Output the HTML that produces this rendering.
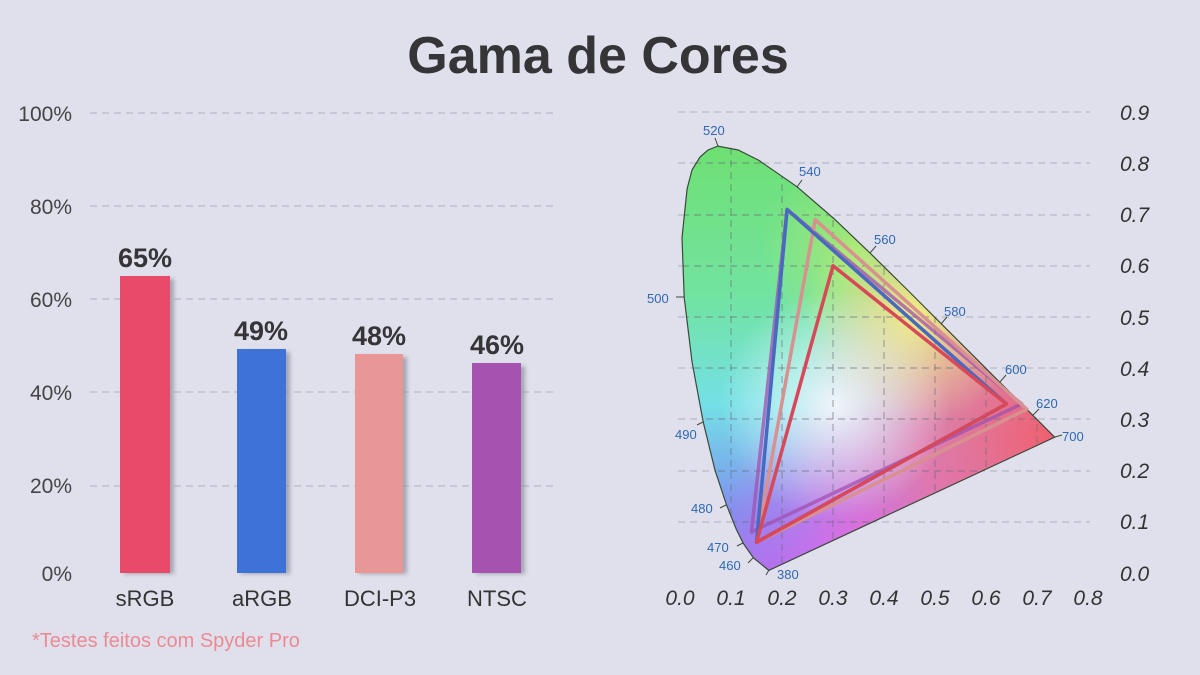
<!DOCTYPE html>
<html><head><meta charset="utf-8"><style>
html,body{margin:0;padding:0;background:#dfe0ec;}
svg{display:block;}
text{font-family:"Liberation Sans",sans-serif;}
</style></head><body>
<svg width="1200" height="675" viewBox="0 0 1200 675" xmlns="http://www.w3.org/2000/svg">
<defs>
<clipPath id="loc"><path id="locp" d="M768.8,570.4 L753.4,557.8 L743.3,543.4 L736,528.6 L726.6,505.1 L715,470.2 L703.2,422 L692,361.7 L684.2,297.3 L682,237.7 L687.1,188.9 L692,170 L699.8,157.3 L708,150 L717.9,146.1 L738.2,150 L758.9,160.4 L797.1,186.8 L833.8,218.5 L870.3,253.3 L906.5,289 L941.4,323.9 L973.4,355.8 L999.8,382.3 L1032.7,415.2 L1054.7,437.2 Z"/></clipPath>
<linearGradient id="gv" x1="0" y1="0" x2="0" y2="1">
<stop offset="0" stop-color="#6ee070"/><stop offset="0.35" stop-color="#72e3a0"/><stop offset="0.6" stop-color="#74e0e6"/><stop offset="0.85" stop-color="#7d90f0"/><stop offset="1" stop-color="#a070f0"/></linearGradient>
<radialGradient id="gr" cx="1050" cy="435" r="260" gradientUnits="userSpaceOnUse">
<stop offset="0" stop-color="#f06070" stop-opacity="1"/><stop offset="0.5" stop-color="#f070a0" stop-opacity="0.8"/><stop offset="1" stop-color="#f070c0" stop-opacity="0"/></radialGradient>
<radialGradient id="gm" cx="860" cy="545" r="150" gradientUnits="userSpaceOnUse">
<stop offset="0" stop-color="#e868e8" stop-opacity="0.85"/><stop offset="1" stop-color="#e868e8" stop-opacity="0"/></radialGradient>
<radialGradient id="gy" cx="915" cy="315" r="110" gradientUnits="userSpaceOnUse">
<stop offset="0" stop-color="#f4f080" stop-opacity="0.95"/><stop offset="1" stop-color="#f4f080" stop-opacity="0"/></radialGradient>
<radialGradient id="gg" cx="850" cy="250" r="90" gradientUnits="userSpaceOnUse">
<stop offset="0" stop-color="#b0e870" stop-opacity="0.8"/><stop offset="1" stop-color="#b0e870" stop-opacity="0"/></radialGradient>
<radialGradient id="gw" cx="835" cy="405" r="115" gradientUnits="userSpaceOnUse">
<stop offset="0" stop-color="#fff" stop-opacity="0.85"/><stop offset="1" stop-color="#fff" stop-opacity="0"/></radialGradient>
<filter id="sh" x="-20%" y="-20%" width="150%" height="140%"><feGaussianBlur stdDeviation="2"/></filter>
</defs>

<text x="598" y="73" text-anchor="middle" font-size="52" font-weight="bold" fill="#353538">Gama de Cores</text>

<g stroke="#b8bac8" stroke-width="1.2" stroke-dasharray="7,5">
<line x1="90" y1="113" x2="558" y2="113"/><line x1="90" y1="206" x2="558" y2="206"/>
<line x1="90" y1="299" x2="558" y2="299"/><line x1="90" y1="392" x2="558" y2="392"/>
<line x1="90" y1="486" x2="558" y2="486"/>
</g>
<g font-size="21" fill="#444" text-anchor="end">
<text x="72" y="121">100%</text><text x="72" y="214">80%</text><text x="72" y="307">60%</text>
<text x="72" y="400">40%</text><text x="72" y="493">20%</text><text x="72" y="581">0%</text>
</g>
<g fill="#8a8c98" opacity="0.7" filter="url(#sh)">
<rect x="124" y="279" width="50" height="295"/><rect x="241" y="352" width="49" height="222"/>
<rect x="359" y="357" width="48" height="217"/><rect x="476" y="366" width="49" height="208"/>
</g>
<rect x="120" y="276" width="50" height="297" fill="#e84a6a"/>
<rect x="237" y="349" width="49" height="224" fill="#3e72d8"/>
<rect x="355" y="354" width="48" height="219" fill="#e89696"/>
<rect x="472" y="363" width="49" height="210" fill="#a552b0"/>
<g font-size="27" font-weight="bold" fill="#353538" text-anchor="middle">
<text x="145" y="267">65%</text><text x="261" y="340">49%</text><text x="379" y="345">48%</text><text x="497" y="354">46%</text>
</g>
<g font-size="22" fill="#333" text-anchor="middle">
<text x="145" y="606">sRGB</text><text x="262" y="606">aRGB</text><text x="380" y="606">DCI-P3</text><text x="497" y="606">NTSC</text>
</g>
<text x="32" y="647" font-size="20" fill="#ec8a94">*Testes feitos com Spyder Pro</text>

<g stroke="#b8bac8" stroke-width="1.2" stroke-dasharray="7,5">
<line x1="678" y1="112" x2="1090" y2="112"/><line x1="678" y1="163" x2="1090" y2="163"/>
<line x1="678" y1="215" x2="1090" y2="215"/><line x1="678" y1="266" x2="1090" y2="266"/>
<line x1="678" y1="317" x2="1090" y2="317"/><line x1="678" y1="368" x2="1090" y2="368"/>
<line x1="678" y1="419" x2="1090" y2="419"/><line x1="678" y1="471" x2="1090" y2="471"/>
<line x1="678" y1="522" x2="1090" y2="522"/>
</g>
<g clip-path="url(#loc)">
<rect x="670" y="140" width="400" height="440" fill="url(#gv)"/>
<rect x="670" y="140" width="400" height="440" fill="url(#gg)"/>
<rect x="670" y="140" width="400" height="440" fill="url(#gm)"/>
<rect x="670" y="140" width="400" height="440" fill="url(#gr)"/>
<rect x="670" y="140" width="400" height="440" fill="url(#gy)"/>
<rect x="670" y="140" width="400" height="440" fill="url(#gw)"/>
<g stroke="#6a6c78" stroke-opacity="0.55" stroke-width="1.2" stroke-dasharray="7,5">
<line x1="731" y1="100" x2="731" y2="580"/><line x1="782" y1="100" x2="782" y2="580"/>
<line x1="833" y1="100" x2="833" y2="580"/><line x1="884" y1="100" x2="884" y2="580"/>
<line x1="935" y1="100" x2="935" y2="580"/><line x1="986" y1="100" x2="986" y2="580"/>
<line x1="1037" y1="100" x2="1037" y2="580"/>
<line x1="670" y1="163" x2="1090" y2="163"/><line x1="670" y1="215" x2="1090" y2="215"/>
<line x1="670" y1="266" x2="1090" y2="266"/><line x1="670" y1="317" x2="1090" y2="317"/>
<line x1="670" y1="368" x2="1090" y2="368"/><line x1="670" y1="419" x2="1090" y2="419"/>
<line x1="670" y1="471" x2="1090" y2="471"/><line x1="670" y1="522" x2="1090" y2="522"/>
</g>
</g>
<use href="#locp" fill="none" stroke="#3a4a3a" stroke-width="1.2"/>

<g fill="none" stroke-width="3.5" stroke-linejoin="round">
<polygon points="1021.7,404 787.1,209.5 751.4,532" stroke="#a050b0" stroke-opacity="0.75"/>
<polygon points="1026.8,409.2 815.2,219.7 756.5,542.3" stroke="#d89090"/>
<polygon points="1006.4,404 787.1,209.5 756.5,542.3" stroke="#4a68c0"/>
<polygon points="1006.4,404 833,265.8 756.5,542.3" stroke="#d84858"/>
</g>

<g stroke="#3a4a3a" stroke-width="1">
<line x1="717.9" y1="146" x2="715" y2="138"/><line x1="797" y1="187" x2="802" y2="180"/>
<line x1="870" y1="253" x2="876" y2="246"/><line x1="941" y1="324" x2="947" y2="317"/>
<line x1="1000" y1="382" x2="1006" y2="375"/><line x1="1033" y1="415" x2="1039" y2="409"/>
<line x1="1055" y1="437" x2="1062" y2="435"/><line x1="684" y1="297" x2="676" y2="297"/>
<line x1="703" y1="422" x2="697" y2="425"/><line x1="726" y1="505" x2="720" y2="508"/>
<line x1="743" y1="543" x2="737" y2="546"/><line x1="753" y1="558" x2="748" y2="563"/>
<line x1="769" y1="570" x2="766" y2="575"/>
</g>
<g font-size="13" fill="#2f68b4">
<text x="703" y="135">520</text><text x="799" y="176">540</text><text x="874" y="244">560</text>
<text x="944" y="316">580</text><text x="1005" y="374">600</text><text x="1036" y="408">620</text>
<text x="1062" y="441">700</text><text x="647" y="303">500</text><text x="675" y="439">490</text>
<text x="691" y="513">480</text><text x="707" y="552">470</text><text x="719" y="570">460</text>
<text x="777" y="579">380</text>
</g>

<g font-size="21" font-style="italic" fill="#333">
<text x="1120" y="120">0.9</text><text x="1120" y="171">0.8</text><text x="1120" y="222">0.7</text>
<text x="1120" y="273">0.6</text><text x="1120" y="325">0.5</text><text x="1120" y="376">0.4</text>
<text x="1120" y="427">0.3</text><text x="1120" y="478">0.2</text><text x="1120" y="529">0.1</text>
<text x="1120" y="581">0.0</text>
</g>
<g font-size="21" font-style="italic" fill="#333" text-anchor="middle">
<text x="680" y="605">0.0</text><text x="731" y="605">0.1</text><text x="782" y="605">0.2</text>
<text x="833" y="605">0.3</text><text x="884" y="605">0.4</text><text x="935" y="605">0.5</text>
<text x="986" y="605">0.6</text><text x="1037" y="605">0.7</text><text x="1088" y="605">0.8</text>
</g>
</svg>
</body></html>
